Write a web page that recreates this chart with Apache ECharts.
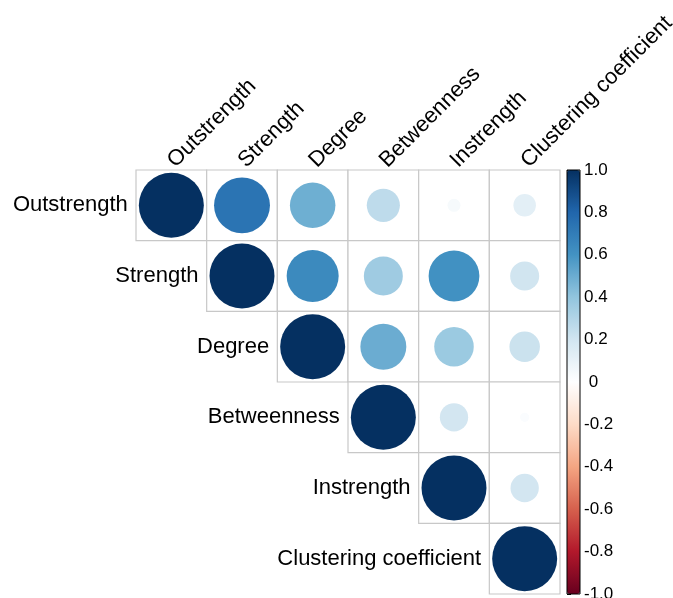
<!DOCTYPE html>
<html>
<head>
<meta charset="utf-8">
<script src="https://cdn.jsdelivr.net/npm/echarts@6/dist/echarts.min.js"></script>
<style>
  html, body { margin: 0; padding: 0; background: #fff; }
  #main { width: 673px; height: 598px; }
</style>
</head>
<body>
<div id="main"></div>
<script>
// variable names, same order for rows and columns
var varNames = ['Outstrength', 'Strength', 'Degree', 'Betweenness', 'Instrength', 'Clustering coefficient'];

// upper triangle of the correlation matrix, one array per row (starting at the diagonal)
var outstrengthCor = [1, 0.74, 0.49, 0.26, 0.04, 0.12];
var strengthCor = [1, 0.64, 0.36, 0.61, 0.20];
var degreeCor = [1, 0.50, 0.37, 0.22];
var betweennessCor = [1, 0.19, 0.02];
var instrengthCor = [1, 0.19];
var clusteringCor = [1];

// colour bar ticks
var barTicks = [-1, -0.8, -0.6, -0.4, -0.2, 0, 0.2, 0.4, 0.6, 0.8, 1];

// RdBu palette like corrplot COL2('RdBu')
var rdbu = ['#67001F', '#B2182B', '#D6604D', '#F4A582', '#FDDBC7', '#FFFFFF',
            '#D1E5F0', '#92C5DE', '#4393C3', '#2166AC', '#053061'];

var rows = [outstrengthCor, strengthCor, degreeCor, betweennessCor, instrengthCor, clusteringCor];
var font = 'Liberation Sans';

var cells = [];
var points = [];
rows.forEach(function (row, i) {
    row.forEach(function (v, k) {
        var j = i + k;
        cells.push([j, i]);
        var item = { value: [j, i, v] };
        if (j === i) {
            // row name sits just left of the diagonal cell
            item.label = {
                show: true,
                position: 'left',
                distance: 11,
                formatter: varNames[i],
                color: '#000',
                fontSize: 22,
                fontFamily: font
            };
        }
        points.push(item);
    });
});

var maxD = 65;

var myChart = echarts.init(document.getElementById('main'));
myChart.setOption({
    animation: false,
    backgroundColor: '#fff',
    grid: [
        { left: 136, top: 170, width: 424, height: 424, outerBoundsMode: 'none', containLabel: false },
        { left: 567, top: 170, width: 13, height: 424, outerBoundsMode: 'none', containLabel: false,
          show: true, borderColor: '#000', borderWidth: 1, backgroundColor: 'transparent', z: 10 }
    ],
    xAxis: [
        {
            type: 'category', gridIndex: 0, position: 'top', data: varNames,
            axisLine: { show: false }, axisTick: { show: false }, splitLine: { show: false },
            axisLabel: { rotate: -45, margin: 6, fontSize: 22, color: '#000', fontFamily: font, interval: 0 }
        },
        { type: 'value', gridIndex: 1, show: false, min: 0, max: 1 }
    ],
    yAxis: [
        {
            type: 'category', gridIndex: 0, inverse: true, data: varNames,
            axisLine: { show: false }, axisTick: { show: false }, axisLabel: { show: false }, splitLine: { show: false }
        },
        {
            type: 'value', gridIndex: 1, position: 'right', min: -1, max: 1, interval: 0.2,
            axisLine: { show: false },
            axisTick: { show: true, inside: false, length: 4, lineStyle: { color: '#000' } },
            splitLine: { show: false },
            axisLabel: {
                margin: 4, fontSize: 17, color: '#000', fontFamily: font,
                formatter: function (v) {
                    var r = Math.round(v * 10) / 10;
                    return r === 0 ? ' 0' : r.toFixed(1);
                }
            }
        }
    ],
    visualMap: {
        type: 'continuous',
        seriesIndex: 1,
        dimension: 2,
        min: -1,
        max: 1,
        calculable: false,
        left: 567,
        top: 170,
        padding: 0,
        itemWidth: 13,
        itemHeight: 424,
        text: null,
        showLabel: false,
        inRange: { color: rdbu }
    },
    series: [
        {
            type: 'custom',
            xAxisIndex: 0,
            yAxisIndex: 0,
            silent: true,
            data: cells,
            renderItem: function (params, api) {
                var c = api.coord([api.value(0), api.value(1)]);
                var s = api.size([1, 1]);
                return {
                    type: 'rect',
                    shape: { x: c[0] - s[0] / 2, y: c[1] - s[1] / 2, width: s[0], height: s[1] },
                    style: { fill: '#fff', stroke: '#c8c8c8', lineWidth: 1.2 }
                };
            }
        },
        {
            type: 'scatter',
            xAxisIndex: 0,
            yAxisIndex: 0,
            symbol: 'circle',
            itemStyle: { opacity: 1 },
            symbolSize: function (val) {
                return maxD * Math.sqrt(Math.abs(val[2]));
            },
            data: points
        }
    ]
});
</script>
</body>
</html>
